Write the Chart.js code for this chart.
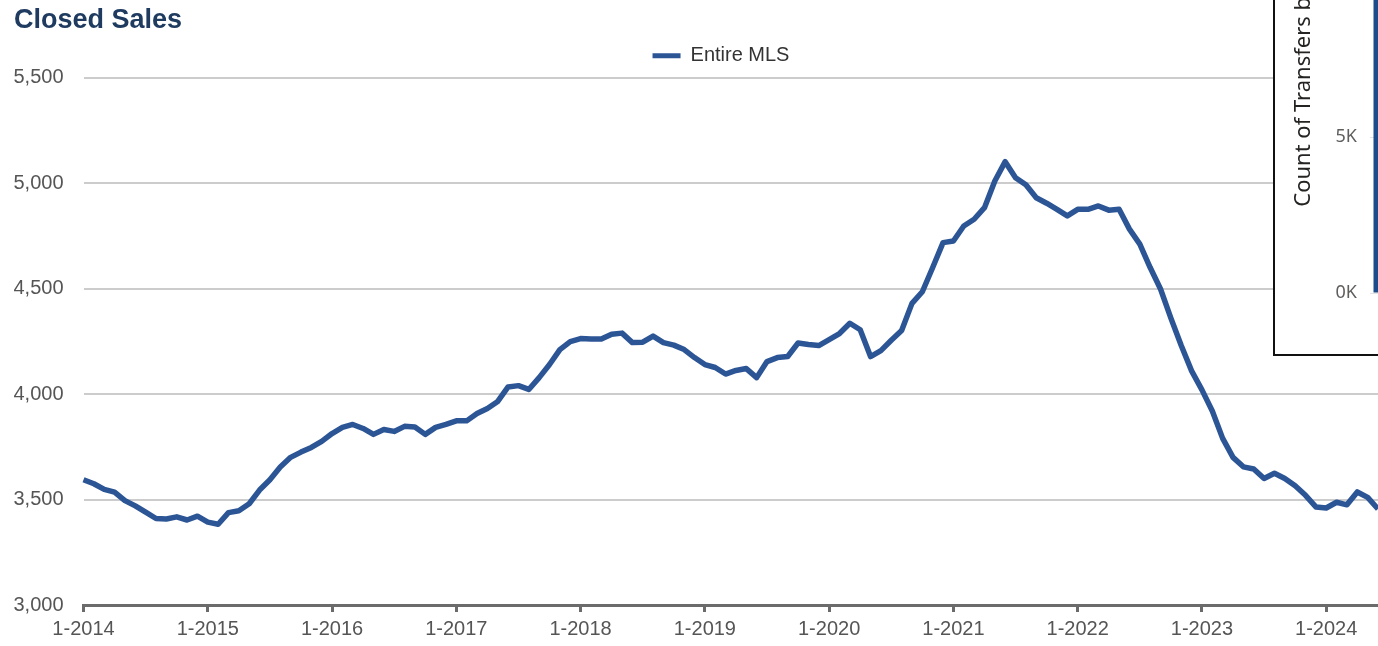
<!DOCTYPE html>
<html>
<head>
<meta charset="utf-8">
<title>Closed Sales</title>
<script src="https://cdn.jsdelivr.net/npm/chart.js@4.4.1/dist/chart.umd.min.js"></script>
<style>
  html, body { margin: 0; padding: 0; background: #fff; overflow: hidden; }
  #wrap { position: relative; width: 1378px; height: 646px; overflow: hidden; }
  /* a few px wider than the view so the plot runs right to the edge */
  #salesChart { position: absolute; left: 0; top: 0; }
  /* transfers panel sits on top of the sales chart, partly off screen */
  #transfersBox {
    position: absolute; left: 1273px; top: -200px;
    width: 200px; height: 556px; box-sizing: border-box;
    border: 2px solid #111; background: #fff;
  }
  #transfersChart { position: absolute; left: 0; top: 0; }
</style>
</head>
<body>
<div id="wrap">
  <canvas id="salesChart" width="1383" height="646"></canvas>
  <div id="transfersBox"><canvas id="transfersChart" width="120" height="552"></canvas></div>
</div>
<script>
// Closed sales per month, Entire MLS
const years = [2014, 2015, 2016, 2017, 2018, 2019, 2020, 2021, 2022, 2023, 2024];
const sales2014 = [3594, 3575, 3548, 3535, 3495, 3470, 3440, 3410, 3408, 3418, 3403, 3421];
const sales2015 = [3393, 3383, 3438, 3447, 3480, 3545, 3594, 3654, 3700, 3725, 3747, 3776];
const sales2016 = [3813, 3842, 3856, 3837, 3809, 3832, 3823, 3847, 3844, 3809, 3842, 3856];
const sales2017 = [3873, 3873, 3908, 3932, 3965, 4034, 4040, 4022, 4078, 4140, 4211, 4249];
const sales2018 = [4263, 4261, 4261, 4284, 4289, 4244, 4246, 4275, 4244, 4232, 4211, 4173];
const sales2019 = [4140, 4126, 4095, 4112, 4121, 4078, 4154, 4173, 4178, 4242, 4235, 4230];
const sales2020 = [4258, 4287, 4336, 4305, 4178, 4206, 4255, 4301, 4430, 4485, 4600, 4718];
const sales2021 = [4726, 4797, 4829, 4884, 5010, 5102, 5026, 4992, 4931, 4905, 4876, 4845];
const sales2022 = [4876, 4876, 4892, 4872, 4876, 4782, 4711, 4600, 4498, 4360, 4230, 4110];
const sales2023 = [4020, 3920, 3790, 3700, 3655, 3645, 3600, 3625, 3600, 3565, 3520, 3465];
const sales2024 = [3460, 3487, 3475, 3536, 3510, 3455];
const yTicks = [3000, 3500, 4000, 4500, 5000, 5500];

// transfers panel
const transferLabels = ['1-2024'];
const transferCounts = [10200];
const transferTicks = [0, 5000, 10000, 15000];

const lineBlue = '#2c5596';
const axisGray = '#6b6b6b';
const labelGray = '#555555';

// month labels like "1-2014" and the flat series that goes with them
const monthLabels = [];
const salesValues = [];
[sales2014, sales2015, sales2016, sales2017, sales2018, sales2019,
 sales2020, sales2021, sales2022, sales2023, sales2024].forEach((vals, i) => {
    vals.forEach((v, m) => {
        monthLabels.push((m + 1) + '-' + years[i]);
        salesValues.push(v);
    });
});
const isJanuary = i => (monthLabels[i] || '').startsWith('1-');

Chart.defaults.font.family = "'Liberation Sans', Arial, sans-serif";

// legend: a little extra room below it, and centred a bit right of the middle
const legendNudge = {
    id: 'legendNudge',
    beforeLayout(chart) {
        const lg = chart.legend;
        if (lg && !lg._nudged) {
            const fit = lg.fit;
            lg.fit = function () { fit.call(this); this.height += 2; };
            lg._nudged = true;
        }
    },
    afterLayout(chart) {
        if (chart.legend) {
            chart.legend.left += 22.5;
            chart.legend.right += 22.5;
        }
    }
};

new Chart(document.getElementById('salesChart'), {
    type: 'line',
    data: {
        labels: monthLabels,
        datasets: [{
            label: 'Entire MLS',
            data: salesValues,
            borderColor: lineBlue,
            backgroundColor: lineBlue,
            borderWidth: 5.5,
            borderJoinStyle: 'round',
            pointRadius: 0,
            tension: 0
        }]
    },
    options: {
        responsive: false,
        animation: false,
        layout: { padding: { top: 0, left: 14, right: 0, bottom: 0 } },
        plugins: {
            title: {
                display: true,
                text: 'Closed Sales',
                align: 'start',
                color: '#1f3b60',
                font: { size: 27, weight: 'bold', lineHeight: 1.1 },
                padding: { top: 6, bottom: 0 }
            },
            legend: {
                position: 'top',
                labels: {
                    boxWidth: 28,
                    boxHeight: 5,
                    padding: 10,
                    color: '#333333',
                    font: { size: 20 },
                    generateLabels(chart) {
                        return Chart.defaults.plugins.legend.labels.generateLabels(chart)
                            .map(item => Object.assign(item, { lineWidth: 0 }));
                    }
                }
            },
            tooltip: { enabled: false }
        },
        scales: {
            x: {
                ticks: {
                    autoSkip: false,
                    maxRotation: 0,
                    padding: 5,
                    color: labelGray,
                    font: { size: 20 },
                    callback: (v, i) => isJanuary(i) ? monthLabels[i] : ''
                },
                grid: {
                    drawOnChartArea: false,
                    drawTicks: true,
                    tickLength: 7,
                    tickWidth: 3,
                    tickColor: ctx => isJanuary(ctx.index) ? axisGray : 'rgba(0,0,0,0)'
                },
                border: { display: true, color: axisGray, width: 3 }
            },
            y: {
                min: yTicks[0],
                max: yTicks[yTicks.length - 1],
                ticks: {
                    stepSize: yTicks[1] - yTicks[0],
                    padding: 20,
                    color: labelGray,
                    font: { size: 20 },
                    callback: v => v.toLocaleString('en-US')
                },
                grid: { color: '#cccccc', lineWidth: 2, drawTicks: false },
                border: { display: false },
                afterFit(scale) { scale.width = 69.5; }
            }
        }
    },
    plugins: [legendNudge]
});

new Chart(document.getElementById('transfersChart'), {
    type: 'bar',
    data: {
        labels: transferLabels,
        datasets: [{ data: transferCounts, backgroundColor: '#1c4c8c' }]
    },
    options: {
        responsive: false,
        animation: false,
        layout: { padding: { top: 21, left: 12, right: 0, bottom: 61 } },
        plugins: { legend: { display: false }, tooltip: { enabled: false } },
        scales: {
            x: { display: false },
            y: {
                min: transferTicks[0],
                max: transferTicks[transferTicks.length - 1],
                ticks: {
                    stepSize: transferTicks[1] - transferTicks[0],
                    padding: 13,
                    color: '#605e5c',
                    font: { family: "'Noto Sans', sans-serif", size: 18 },
                    callback: v => (v / 1000) + 'K'
                },
                grid: { color: '#e3e3e3', drawTicks: false },
                border: { display: false },
                title: {
                    display: true,
                    text: 'Count of Transfers by Month',
                    color: '#252423',
                    font: { family: "'Noto Sans', sans-serif", size: 22 },
                    padding: { top: 4, bottom: 4 }
                },
                afterFit(scale) { scale.width = 83; }
            }
        }
    }
});
</script>
</body>
</html>
